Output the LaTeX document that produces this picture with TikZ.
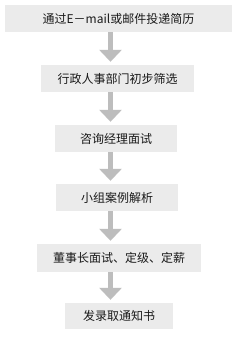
\documentclass[tikz,border=0pt]{standalone}
\usepackage{fontspec}
\setmainfont{Noto Sans CJK SC}
\usetikzlibrary{arrows.meta}
\definecolor{cajagris}{HTML}{EBEBEB}
\definecolor{flechagris}{HTML}{BDBDBD}
\begin{document}
\begin{tikzpicture}[x=1pt,y=-1pt,
    every node/.style={font=\fontsize{12}{14}\selectfont,text=black!90},
    caja/.style={fill=cajagris,inner sep=0pt,minimum height=27pt},
    flecha/.style={flechagris,line width=5pt,
        -{Triangle[width=22pt,length=12pt]},shorten >=3pt}]
    % Fondo blanco con las proporciones del original.
    \useasboundingbox[fill=white] (0,0) rectangle (239,339);

    \node[caja,minimum width=227pt] (cv) at (118.5,18.5) {通过E－mail或邮件投递简历};
    \node[caja,minimum width=153pt] (filtro) at (117.5,78.5) {行政人事部门初步筛选};
    \node[caja,minimum width=122pt] (gerente) at (116,138.5) {咨询经理面试};
    \node[caja,minimum width=122pt] (grupo) at (117,197.5) {小组案例解析};
    \node[caja,minimum width=164pt,minimum height=28pt] (director) at (119,258) {董事长面试、定级、定薪};
    \node[caja,minimum width=108pt,minimum height=26pt] (oferta) at (119,316) {发录取通知书};

    % Las flechas van un poco a la izquierda del centro.
    \coordinate (eje) at (110.5,0);
    \draw[flecha] (cv.south -| eje) -- (filtro.north -| eje);
    \draw[flecha] (filtro.south -| eje) -- (gerente.north -| eje);
    \draw[flecha] (gerente.south -| eje) -- (grupo.north -| eje);
    \draw[flecha] (grupo.south -| eje) -- (director.north -| eje);
    \draw[flecha] (director.south -| eje) -- (oferta.north -| eje);
\end{tikzpicture}
\end{document}
